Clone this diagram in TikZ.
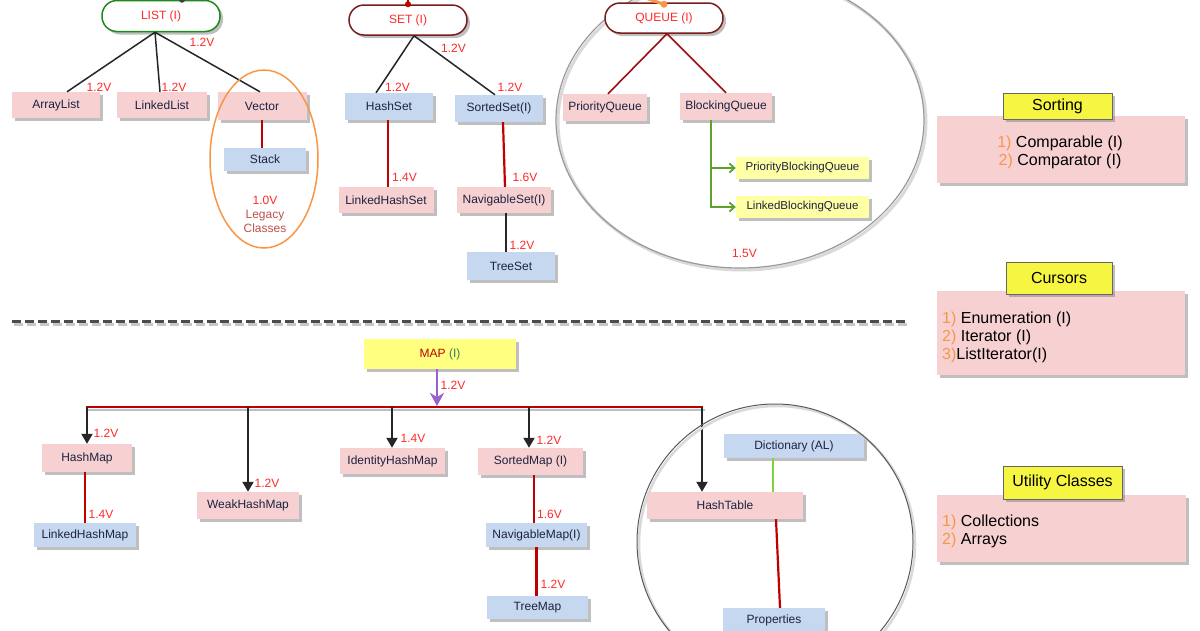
\documentclass[tikz,border=0pt]{standalone}
\usepackage{fontspec}
\setmainfont{Liberation Sans}
\usetikzlibrary{arrows.meta,shadows,calc}
\definecolor{pinkf}{HTML}{F7D0D2}
\definecolor{bluef}{HTML}{C6D8F0}
\definecolor{ylw}{HTML}{F5F542}
\definecolor{lylw}{HTML}{FFFFA6}
\definecolor{mapy}{HTML}{FFFF80}
\definecolor{txt}{HTML}{1C2340}
\definecolor{lblred}{HTML}{FF2A2A}
\definecolor{dred}{HTML}{C00000}
\definecolor{qred}{HTML}{991010}
\definecolor{termred}{HTML}{7A1C1C}
\definecolor{termgreen}{HTML}{1E8A1E}
\definecolor{orng}{HTML}{F79646}
\definecolor{purp}{HTML}{9A5FD0}
\definecolor{grn}{HTML}{5EA22A}
\definecolor{lgrn}{HTML}{7ED43A}
\definecolor{legacy}{HTML}{C0504D}
\definecolor{mapi}{HTML}{3A7A5A}
\tikzset{
 shad/.style={drop shadow={shadow xshift=3pt,shadow yshift=-3pt,fill=black!50,opacity=0.5}},
 cls/.style={shad, inner sep=2pt, text=txt, font=\fontsize{12}{14}\selectfont},
 pinkbox/.style={cls, fill=pinkf},
 bluebox/.style={cls, fill=bluef},
 qbox/.style={cls, fill=lylw, font=\fontsize{11.5}{14}\selectfont},
 term/.style={shad, fill=white, rounded corners=15pt, line width=1.5pt, minimum width=118pt, minimum height=30pt, text=lblred, font=\fontsize{12}{14}\selectfont},
 lbl/.style={text=lblred, inner sep=0pt, font=\fontsize{12}{14}\selectfont},
 tag/.style={shad, fill=ylw, draw=black!60, line width=0.6pt, text=black, font=\fontsize{16}{18}\selectfont},
 panel/.style={shad, fill=pinkf, minimum width=248pt},
 ptext/.style={text=black, font=\fontsize{16}{18}\selectfont, inner sep=0pt},
 blk/.style={line width=1.5pt, black!85},
 redl/.style={line width=2.2pt, dred},
 qline/.style={line width=1.6pt, qred},
 marrow/.style={line width=2pt, black!85, -{Triangle[width=11pt,length=10pt]}},
 garrow/.style={line width=1.8pt, grn, -{Straight Barb[length=5pt,width=9pt]}},
}
\begin{document}
\begin{tikzpicture}[x=1pt,y=-1pt]
\useasboundingbox[fill=white] (0,0) rectangle (1200,630);

% ---------- separator ----------
\draw[black!22, line width=3pt, dash pattern=on 9pt off 4pt] (14,324) -- (907,324);
\draw[black!70, line width=3pt, dash pattern=on 9pt off 4pt] (12,321) -- (905,321);

% ---------- LIST ----------
\node[term, draw=termgreen, minimum height=31pt] (list) at (161,16) {LIST (I)};
\node[pinkbox, minimum width=88pt, minimum height=26pt] (arraylist) at (56,105) {ArrayList};
\node[pinkbox, minimum width=90pt, minimum height=26pt] (linkedlist) at (162,105) {LinkedList};
\node[pinkbox, minimum width=89pt, minimum height=28pt] (vector) at (262,106) {Vector};
\node[bluebox, minimum width=82pt, minimum height=23pt] (stack) at (265,159.5) {Stack};
\draw[blk] ([xshift=-6pt]list.south) -- ([xshift=11pt]arraylist.north);
\draw[blk] ([xshift=-6pt]list.south) -- ([xshift=-2pt]linkedlist.north);
\draw[blk] ([xshift=-6pt]list.south) -- ([xshift=-2pt]vector.north);
\draw[redl] (vector.south) -- (vector.south |- stack.north);
\fill[black!75] ([xshift=21pt]list.north) circle[radius=3pt];
\draw[black!75, line width=1.5pt] ([xshift=21pt]list.north) -- ([xshift=40pt,yshift=2pt]list.north);
\node[lbl] (l1) at (202,42) {1.2V};
\node[lbl] (l2) at (99,87) {1.2V};
\node[lbl] (l3) at (174,87) {1.2V};
\draw[orng, line width=1.5pt] (264,159) ellipse[x radius=54pt, y radius=89pt];
\node[lbl] (l4) at (265,200) {1.0V};
\node[lbl, text=legacy, align=center, font=\fontsize{12}{14}\selectfont] (legacy) at (265,221) {Legacy\\Classes};

% ---------- SET ----------
\node[term, draw=termred] (set) at (408,20) {SET (I)};
\node[bluebox, minimum width=88pt, minimum height=27pt] (hashset) at (389,106.5) {HashSet};
\node[bluebox, minimum width=88pt, minimum height=27pt] (sortedset) at (499,108.5) {SortedSet(I)};
\node[pinkbox, minimum width=95pt, minimum height=26pt] (linkedhashset) at (386,200) {LinkedHashSet};
\node[pinkbox, minimum width=94pt, minimum height=26pt] (navset) at (504,200) {NavigableSet(I)};
\node[bluebox, minimum width=88pt, minimum height=28pt] (treeset) at (511,266) {TreeSet};
\draw[blk] ([xshift=6pt]set.south) -- ([xshift=-13pt]hashset.north);
\draw[blk] ([xshift=6pt]set.south) -- ([xshift=-4pt]sortedset.north);
\draw[redl] ([xshift=-1pt]hashset.south) -- ([xshift=-1pt]hashset.south |- linkedhashset.north);
\draw[redl] ([xshift=4pt]sortedset.south) -- ([xshift=1pt]navset.north);
\draw[blk] ([xshift=2pt]navset.south) -- ([xshift=2pt]navset.south |- treeset.north);
\fill[dred] (set.north) circle[radius=3pt];
\draw[dred, line width=1.5pt] (set.north) -- ([yshift=6pt]set.north);
\node[lbl] (l5) at (453.5,48) {1.2V};
\node[lbl] (l6) at (397.5,87) {1.2V};
\node[lbl] (l7) at (510,87) {1.2V};
\node[lbl] (l8) at (404.5,177) {1.4V};
\node[lbl] (l9) at (525,177) {1.6V};
\node[lbl] (l10) at (522,245) {1.2V};

% ---------- QUEUE ----------
\draw[black!15, line width=3pt] (742,122) ellipse[x radius=184pt, y radius=148pt];
\draw[black!40, line width=1.2pt] (740,120) ellipse[x radius=184pt, y radius=148pt];
\node[term, draw=termred] (queue) at (664,18) {QUEUE (I)};
\node[pinkbox, minimum width=84pt, minimum height=27pt] (pq) at (605,107.5) {PriorityQueue};
\node[pinkbox, minimum width=92pt, minimum height=27pt] (bq) at (726,106.5) {BlockingQueue};
\node[qbox, minimum width=133pt, minimum height=22pt] (pbq) at (802.5,168) {PriorityBlockingQueue};
\node[qbox, minimum width=133pt, minimum height=22pt] (lbq) at (802.5,207) {LinkedBlockingQueue};
\draw[qline] ([xshift=3pt]queue.south) -- ([xshift=3pt]pq.north);
\draw[qline] ([xshift=3pt]queue.south) -- (bq.north);
\draw[garrow] ([xshift=-15pt]bq.south) |- (pbq.west);
\draw[garrow] ([xshift=-15pt]bq.south) |- (lbq.west);
\draw[orng, line width=3pt] ([xshift=-30pt,yshift=8pt]queue.north) -- ([yshift=-2pt]queue.north);
\fill[orng] ([yshift=-2pt]queue.north) circle[radius=3.5pt];
\node[lbl] (l11) at (744.5,253) {1.5V};

% ---------- right panels ----------
\node[panel, minimum height=67pt] (sortbox) at (1061,149.5) {};
\node[ptext, align=center] (sorttext) at (1060,152) {{\color{orng}1)} Comparable (I)\\{\color{orng}2)} Comparator (I)};
\node[tag, minimum width=109pt, minimum height=26pt] (sorting) at (1057.5,106) {Sorting};
\node[panel, minimum height=84pt] (cursorbox) at (1061,333) {};
\node[ptext, align=left, anchor=west] (cursortext) at (942,337) {{\color{orng}1)} Enumeration (I)\\{\color{orng}2)} Iterator (I)\\{\color{orng}3)}ListIterator(I)};
\node[tag, minimum width=106pt, minimum height=32pt] (cursors) at (1059,278) {Cursors};
\node[panel, minimum height=67pt, minimum width=249pt] (utilbox) at (1061.5,528.5) {};
\node[ptext, align=left, anchor=west] (utiltext) at (942,531.5) {{\color{orng}1)} Collections\\{\color{orng}2)} Arrays};
\node[tag, minimum width=119pt, minimum height=33pt] (utility) at (1062.5,482.5) {Utility Classes};

% ---------- MAP ----------
\node[shad, fill=mapy, minimum width=152pt, minimum height=30pt, font=\fontsize{12}{14}\selectfont] (map) at (440,354) {\textcolor{dred}{MAP} \textcolor{mapi}{(I)}};
\coordinate (bl) at (86,407);
\coordinate (br) at (703,407);
\draw[black!25, line width=2pt] ($(bl)+(2,3)$) -- ($(br)+(2,3)$);
\draw[dred, line width=2pt] (bl) -- (br);
\coordinate (mj) at (437,406);
\draw[purp, line width=2.5pt, -{Stealth[width=14pt,length=13pt,inset=4pt]}] (map.south -| mj) -- (mj);
\node[lbl] (l12) at (453,385) {1.2V};

\node[pinkbox, minimum width=90pt, minimum height=28pt] (hashmap) at (87,458) {HashMap};
\node[bluebox, minimum width=102pt, minimum height=24pt] (linkedhashmap) at (85,535) {LinkedHashMap};
\node[pinkbox, minimum width=102pt, minimum height=27pt] (weakhashmap) at (248,505.5) {WeakHashMap};
\node[pinkbox, minimum width=105pt, minimum height=26pt] (identityhashmap) at (392.5,461) {IdentityHashMap};
\node[pinkbox, minimum width=105pt, minimum height=27pt] (sortedmap) at (530.5,461.5) {SortedMap (I)};
\node[bluebox, minimum width=101pt, minimum height=24pt] (navmap) at (536.5,535) {NavigableMap(I)};
\node[bluebox, minimum width=101pt, minimum height=23pt] (treemap) at (537.5,607.5) {TreeMap};
\node[pinkbox, minimum width=156pt, minimum height=27pt] (hashtable) at (725,505.5) {HashTable};
\node[bluebox, minimum width=140pt, minimum height=24pt] (dictionary) at (794,446) {Dictionary (AL)};
\node[bluebox, minimum width=102pt, minimum height=24pt] (properties) at (774,620) {Properties};

\coordinate (b1) at (87,407);
\coordinate (b2) at (248,407);
\coordinate (b3) at (392,407);
\coordinate (b4) at (529,407);
\coordinate (b5) at (702,407);
\draw[marrow] (b1) -- (b1 |- hashmap.north);
\draw[marrow] (b2) -- (b2 |- weakhashmap.north);
\draw[marrow] (b3) -- (b3 |- identityhashmap.north);
\draw[marrow] (b4) -- (b4 |- sortedmap.north);
\draw[marrow] (b5) -- (b5 |- hashtable.north);
\draw[redl] ([xshift=-2pt]hashmap.south) -- (linkedhashmap.north);
\draw[redl] ([xshift=3.5pt]sortedmap.south) -- ([xshift=-2.5pt]navmap.north);
\draw[redl] (navmap.south) -- (navmap.south |- treemap.north);
\draw[lgrn, line width=1.6pt] ([xshift=-21pt]dictionary.south) -- ([xshift=-21pt]dictionary.south |- hashtable.north);
\draw[redl] ([xshift=51pt]hashtable.south) -- ([xshift=6pt]properties.north);
\draw[black!15, line width=2.5pt] (777,544) circle[radius=138pt];
\draw[black!65, line width=1pt] (775,542) circle[radius=138pt];

\node[lbl] (l13) at (106,433) {1.2V};
\node[lbl] (l14) at (101,514) {1.4V};
\node[lbl] (l15) at (267,483) {1.2V};
\node[lbl] (l16) at (413,438) {1.4V};
\node[lbl] (l17) at (549,440) {1.2V};
\node[lbl] (l18) at (549.5,514) {1.6V};
\node[lbl] (l19) at (553,584) {1.2V};
\end{tikzpicture}
\end{document}
